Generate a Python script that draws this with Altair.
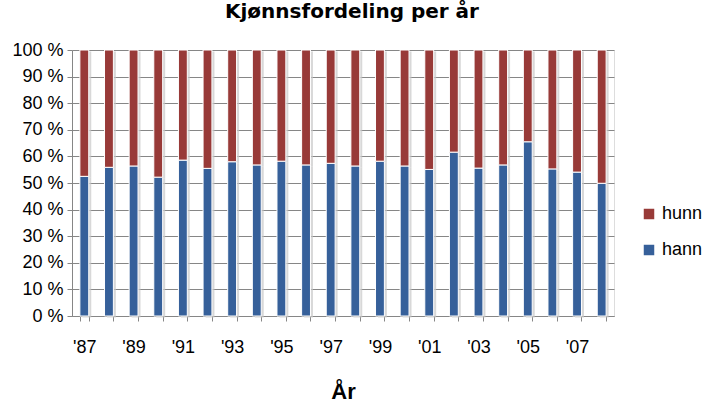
import altair as alt
import pandas as pd

years = list(range(1987, 2009))
hann = [52.5, 55.9, 56.4, 52.2, 58.6, 55.5, 58.0, 56.8, 58.2, 56.8, 57.4,
        56.4, 58.2, 56.4, 55.1, 61.6, 55.6, 56.8, 65.5, 55.3, 54.1, 49.9]
hunn = [47.5, 44.1, 43.6, 47.8, 41.4, 44.5, 42.0, 43.2, 41.8, 43.2, 42.6,
        43.6, 41.8, 43.6, 44.9, 38.4, 44.4, 43.2, 34.5, 44.7, 45.9, 50.1]
series = ["hann", "hunn"]
colors = ["#36609A", "#983A38"]

rows = []
for y, a, b in zip(years, hann, hunn):
    rows.append({"år": y, "kjønn": "hann", "andel": a, "ord": 0})
    rows.append({"år": y, "kjønn": "hunn", "andel": b, "ord": 1})
df = pd.DataFrame(rows)

FONT = "Liberation Sans"

x_enc = alt.X("år:O", title="År",
              scale=alt.Scale(paddingInner=0.64, paddingOuter=0.32),
              axis=alt.Axis(labelAngle=0, tickBand="extent", grid=False,
                            labelExpr="datum.value % 2 == 1 ? \"'\" + slice(toString(datum.value), 2) : ''",
                            labelFont=FONT, labelFontSize=18, labelColor="#000000",
                            labelPadding=17, tickSize=5, tickColor="#868686",
                            domainColor="#868686",
                            titleFont=FONT, titleFontSize=22, titleFontWeight="bold",
                            titleColor="#000000", titlePadding=25))
y_enc = alt.Y("andel:Q", stack="zero", title=None,
              scale=alt.Scale(domain=[0, 100], nice=False),
              axis=alt.Axis(values=list(range(0, 101, 10)),
                            labelExpr="datum.value + ' %'",
                            labelFont=FONT, labelFontSize=18, labelColor="#000000",
                            labelPadding=4, tickSize=5, tickColor="#868686",
                            domainColor="#868686", gridColor="#868686"))

base = alt.Chart(df)

shadow = base.mark_bar(color="#c8c8c8", opacity=0.7, xOffset=2.5, yOffset=1.5).encode(
    x=x_enc, y=y_enc, order=alt.Order("ord:Q"), detail="kjønn:N")

bars = base.mark_bar(stroke="white", strokeWidth=1).encode(
    x=x_enc,
    y=y_enc,
    color=alt.Color("kjønn:N",
                    scale=alt.Scale(domain=series, range=colors),
                    legend=alt.Legend(title=None, orient="none", legendX=568, legendY=155,
                                      symbolType="square", symbolSize=110,
                                      symbolStrokeWidth=0, rowPadding=18,
                                      labelFont=FONT, labelFontSize=18,
                                      labelColor="#000000", values=["hunn", "hann"])),
    order=alt.Order("ord:Q"),
)

chart = alt.layer(shadow, bars).properties(
    width=542, height=266,
    title=alt.Title("Kjønnsfordeling per år", font="DejaVu Sans", fontSize=20,
                    fontWeight="bold", color="#000000", offset=19, anchor="middle",
                    dx=9),
    autosize=alt.AutoSizeParams(type="none"),
    padding={"left": 72, "top": 50, "right": 94, "bottom": 86},
).configure_view(stroke=None).configure(background="white")

chart.save("out.html", embed_options={"renderer": "svg", "actions": False})
